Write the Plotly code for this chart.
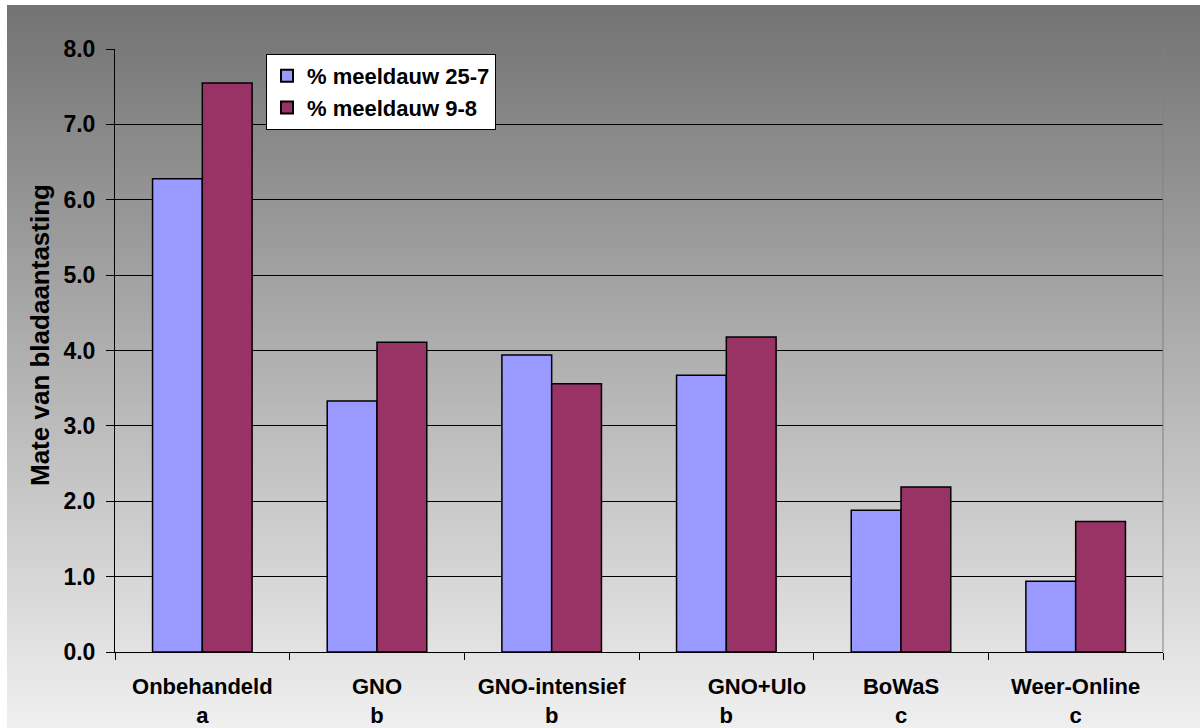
import plotly.graph_objects as go

# Treatments (with significance letter under each name)
treatments = ["Onbehandeld", "GNO", "GNO-intensief",
              "\u00a0" * 10 + "GNO+Ulo", "BoWaS", "Weer-Online"]
letters = ["a", "b", "b", "b", "c", "c"]
categories = [f"{t}<br>{l}" for t, l in zip(treatments, letters)]

series_names = ["% meeldauw 25-7", "% meeldauw 9-8"]
meeldauw_25_7 = [6.28, 3.33, 3.94, 3.67, 1.88, 0.94]
meeldauw_9_8 = [7.55, 4.11, 3.56, 4.18, 2.19, 1.73]

y_ticks = [0, 1, 2, 3, 4, 5, 6, 7, 8]

W, H = 1200, 728
ML, MR, MT, MB = 115, 37, 49, 76
PW, PH = W - ML - MR, H - MT - MB
FONT = "Liberation Sans, Arial, sans-serif"


def px_to_paper_x(px):
    return (px - ML) / PW


def px_to_paper_y(py):
    return (H - MB - py) / PH


fig = go.Figure()
fig.add_trace(go.Bar(
    x=categories, y=meeldauw_25_7, name=f"<b>{series_names[0]}</b>",
    marker=dict(color="#9999FF", line=dict(color="#000000", width=1.5)),
))
fig.add_trace(go.Bar(
    x=categories, y=meeldauw_9_8, name=f"<b>{series_names[1]}</b>",
    marker=dict(color="#993366", line=dict(color="#000000", width=1.5)),
))

# Vertical grey gradient behind the whole chart (white frame on top/left)
shapes = []
top, bottom, left = 5, H, 7
step = 3
c_top, c_bot = 115, 240
y = top
while y < bottom:
    t = (y - top) / (bottom - top)
    c = round(c_top + (c_bot - c_top) * t)
    shapes.append(dict(
        type="rect", xref="paper", yref="paper", layer="below",
        x0=px_to_paper_x(left), x1=px_to_paper_x(W + 5),
        y0=px_to_paper_y(min(y + step + 1, bottom + 2)), y1=px_to_paper_y(y),
        fillcolor=f"rgb({c},{c},{c})", line=dict(width=0),
    ))
    y += step

# Right edge of the plot area
shapes.append(dict(
    type="line", xref="paper", yref="paper", layer="above",
    x0=1, x1=1, y0=0, y1=1, line=dict(color="#808080", width=1),
))

fig.update_layout(
    width=W, height=H,
    margin=dict(l=ML, r=MR, t=MT, b=MB, autoexpand=False),
    paper_bgcolor="#ffffff",
    plot_bgcolor="#c0c0c0",
    barmode="group",
    bargap=0.43,
    bargroupgap=0,
    font=dict(family=FONT, color="#000000"),
    shapes=shapes,
    showlegend=True,
    legend=dict(
        x=px_to_paper_x(266), y=px_to_paper_y(54),
        xanchor="left", yanchor="top",
        bgcolor="#ffffff", bordercolor="#000000", borderwidth=1,
        font=dict(family=FONT, size=22, color="#000000"),
        itemsizing="constant",
        itemwidth=30,
    ),
    annotations=[dict(
        text="<b>Mate van bladaantasting</b>",
        xref="paper", yref="paper",
        x=px_to_paper_x(40), y=px_to_paper_y(335),
        xanchor="center", yanchor="middle",
        textangle=-90, showarrow=False,
        font=dict(family=FONT, size=26, color="#000000"),
    )],
)

fig.update_xaxes(
    type="category",
    tickson="boundaries",
    ticks="outside", ticklen=7, tickcolor="#000000", tickwidth=1,
    showline=True, linecolor="#000000", linewidth=1,
    showgrid=False,
    tickfont=dict(family=FONT, size=22, color="#000000"),
    tickprefix="<b>", ticksuffix="</b>",
    ticklabelstandoff=15,
)
fig.update_yaxes(
    range=[0, 8],
    tickvals=y_ticks,
    ticktext=[f"<b>{v:.1f}</b>" for v in y_ticks],
    ticks="outside", ticklen=8, tickcolor="#000000", tickwidth=1,
    showline=True, linecolor="#000000", linewidth=1,
    showgrid=True, gridcolor="#000000", gridwidth=1,
    zeroline=False,
    tickfont=dict(family=FONT, size=23, color="#000000"),
    ticklabelstandoff=6,
)

fig.write_html("out.html")
